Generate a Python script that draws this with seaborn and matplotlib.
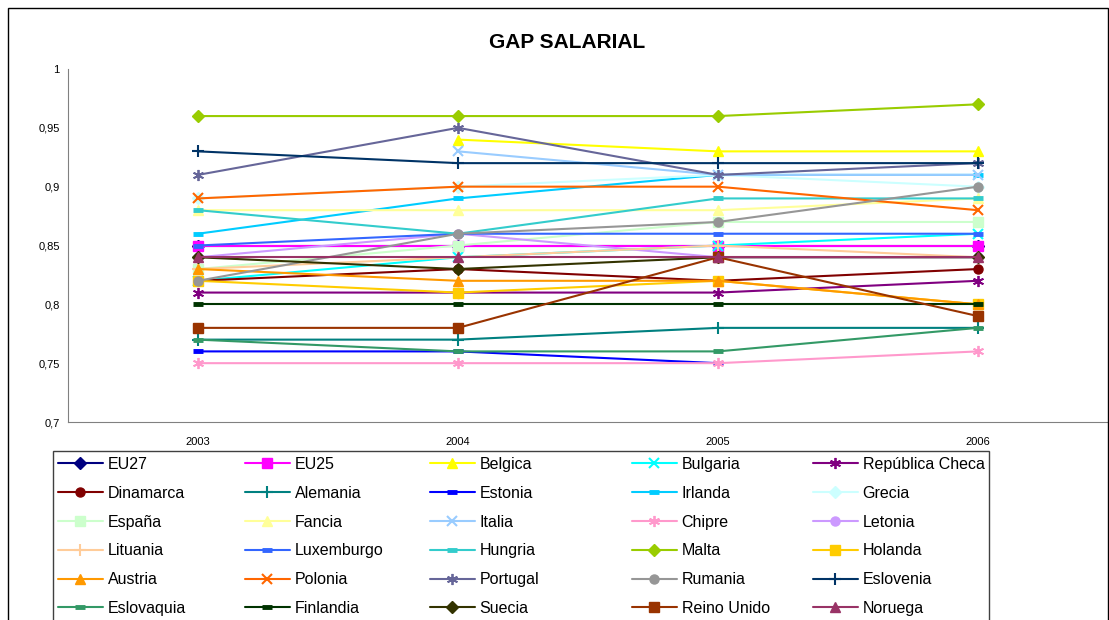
import numpy as np
import seaborn as sns
import matplotlib.pyplot as plt
from matplotlib.patches import Rectangle
from matplotlib.ticker import FixedLocator, FuncFormatter

nan = np.nan

# years on the category axis
years = [2003, 2004, 2005, 2006]

# gap salarial per country
eu27 = [0.85, 0.85, 0.85, 0.85]
eu25 = [0.85, 0.85, 0.85, 0.85]
belgica = [nan, 0.94, 0.93, 0.93]
bulgaria = [0.82, 0.84, 0.85, 0.86]
rep_checa = [0.81, 0.81, 0.81, 0.82]
dinamarca = [0.82, 0.83, 0.82, 0.83]
alemania = [0.77, 0.77, 0.78, 0.78]
estonia = [0.76, 0.76, 0.75, nan]
irlanda = [0.86, 0.89, 0.91, 0.91]
grecia = [0.89, 0.90, 0.91, 0.90]
espana = [0.83, 0.85, 0.87, 0.87]
fancia = [0.88, 0.88, 0.88, 0.89]
italia = [nan, 0.93, 0.91, 0.91]
chipre = [0.75, 0.75, 0.75, 0.76]
letonia = [0.84, 0.86, 0.84, 0.84]
lituania = [0.83, 0.84, 0.85, 0.84]
luxemburgo = [0.85, 0.86, 0.86, 0.86]
hungria = [0.88, 0.86, 0.89, 0.89]
malta = [0.96, 0.96, 0.96, 0.97]
holanda = [0.82, 0.81, 0.82, 0.80]
austria = [0.83, 0.82, 0.82, 0.80]
polonia = [0.89, 0.90, 0.90, 0.88]
portugal = [0.91, 0.95, 0.91, 0.92]
rumania = [0.82, 0.86, 0.87, 0.90]
eslovenia = [0.93, 0.92, 0.92, 0.92]
eslovaquia = [0.77, 0.76, 0.76, 0.78]
finlandia = [0.80, 0.80, 0.80, 0.80]
suecia = [0.84, 0.83, 0.84, 0.84]
reino_unido = [0.78, 0.78, 0.84, 0.79]
noruega = [0.84, 0.84, 0.84, 0.84]

names = ["EU27", "EU25", "Belgica", "Bulgaria", "República Checa",
         "Dinamarca", "Alemania", "Estonia", "Irlanda", "Grecia",
         "España", "Fancia", "Italia", "Chipre", "Letonia",
         "Lituania", "Luxemburgo", "Hungria", "Malta", "Holanda",
         "Austria", "Polonia", "Portugal", "Rumania", "Eslovenia",
         "Eslovaquia", "Finlandia", "Suecia", "Reino Unido", "Noruega"]

series = [eu27, eu25, belgica, bulgaria, rep_checa,
          dinamarca, alemania, estonia, irlanda, grecia,
          espana, fancia, italia, chipre, letonia,
          lituania, luxemburgo, hungria, malta, holanda,
          austria, polonia, portugal, rumania, eslovenia,
          eslovaquia, finlandia, suecia, reino_unido, noruega]

colors = ["#000080", "#FF00FF", "#FFFF00", "#00FFFF", "#800080",
          "#800000", "#008080", "#0000FF", "#00CCFF", "#CCFFFF",
          "#CCFFCC", "#FFFF99", "#99CCFF", "#FF99CC", "#CC99FF",
          "#FFCC99", "#3366FF", "#33CCCC", "#99CC00", "#FFCC00",
          "#FF9900", "#FF6600", "#666699", "#969696", "#003366",
          "#339966", "#003300", "#333300", "#993300", "#993366"]

# Excel marker cycle: (marker, size, edge width)
marker_cycle = [("D", 6.5, 1.0), ("s", 6.5, 1.0), ("^", 7.5, 1.0),
                ("x", 7, 1.5), ((6, 2, 0), 8, 1.3), ("o", 6.5, 1.0),
                ("+", 8, 1.5), ("_", 6.5, 3.5), ("_", 7.5, 3.5)]

sns.set_style("white")
plt.rcParams["font.family"] = ["Liberation Sans", "DejaVu Sans"]
plt.rcParams["text.color"] = "black"
plt.rcParams["xtick.color"] = "black"
plt.rcParams["ytick.color"] = "black"

W, H = 1109, 620
fig = plt.figure(figsize=(W / 100, H / 100), dpi=100)
ax = fig.add_axes([68 / W, 1 - 422 / H, (1108 - 68) / W, (422 - 69) / H])

for i, (name, vals, col) in enumerate(zip(names, series, colors)):
    m, ms, mew = marker_cycle[i % len(marker_cycle)]
    sns.lineplot(x=years, y=vals, ax=ax, color=col, lw=1.5, marker=m,
                 markersize=ms, markeredgewidth=mew, markeredgecolor=col,
                 markerfacecolor=col, label=name, zorder=2 + i * 0.01)

handles, labels = ax.get_legend_handles_labels()
ax.get_legend().remove()

ax.set_xlim(2002.5, 2006.5)
ax.set_ylim(0.7, 1.0)
ax.set_yticks(np.arange(0.7, 1.001, 0.05))
ax.yaxis.set_major_formatter(FuncFormatter(lambda v, p: f"{round(v, 2):g}".replace(".", ",")))
ax.xaxis.set_major_locator(FixedLocator([2002.5, 2003.5, 2004.5, 2005.5, 2006.5]))
ax.xaxis.set_minor_locator(FixedLocator(years))
ax.xaxis.set_major_formatter(FuncFormatter(lambda v, p: ""))
ax.xaxis.set_minor_formatter(FuncFormatter(lambda v, p: str(int(v))))
ax.tick_params(axis="x", which="major", length=4, width=0.8, color="#808080", direction="out")
ax.tick_params(axis="x", which="minor", length=0, pad=11, labelsize=8, labelcolor="black")
ax.tick_params(axis="y", length=4, width=0.8, color="#808080", direction="out",
               labelsize=8, pad=2, labelcolor="black")
ax.set_xlabel("")
ax.set_ylabel("")
for s in ["top", "right"]:
    ax.spines[s].set_visible(False)
for s in ["left", "bottom"]:
    ax.spines[s].set_color("#808080")
    ax.spines[s].set_linewidth(0.8)

fig.text(567 / W, 1 - 42 / H, "GAP SALARIAL", ha="center", va="center",
         fontsize=15, fontweight="bold", color="black")

# legend: 5 columns, filled row by row
col_x = [58, 245, 430, 632, 813]
for c in range(5):
    idx = [r * 5 + c for r in range(6)]
    fig.legend([handles[i] for i in idx], [labels[i] for i in idx],
               loc="upper left", bbox_to_anchor=(col_x[c] / W, 1 - 457 / H),
               frameon=False, borderpad=0, borderaxespad=0,
               handlelength=2.8, handletextpad=0.3, labelspacing=0.865,
               fontsize=11.5, labelcolor="black")

fig.add_artist(Rectangle((53 / W, -0.1), (989 - 53) / W, 0.1 + (620 - 451) / H,
                         transform=fig.transFigure, fill=False, ec="#404040", lw=1))
fig.add_artist(Rectangle((8 / W, -0.1), (1108 - 8) / W, 0.1 + (620 - 8) / H,
                         transform=fig.transFigure, fill=False, ec="black", lw=1))

fig.savefig("out.png", dpi=100)
